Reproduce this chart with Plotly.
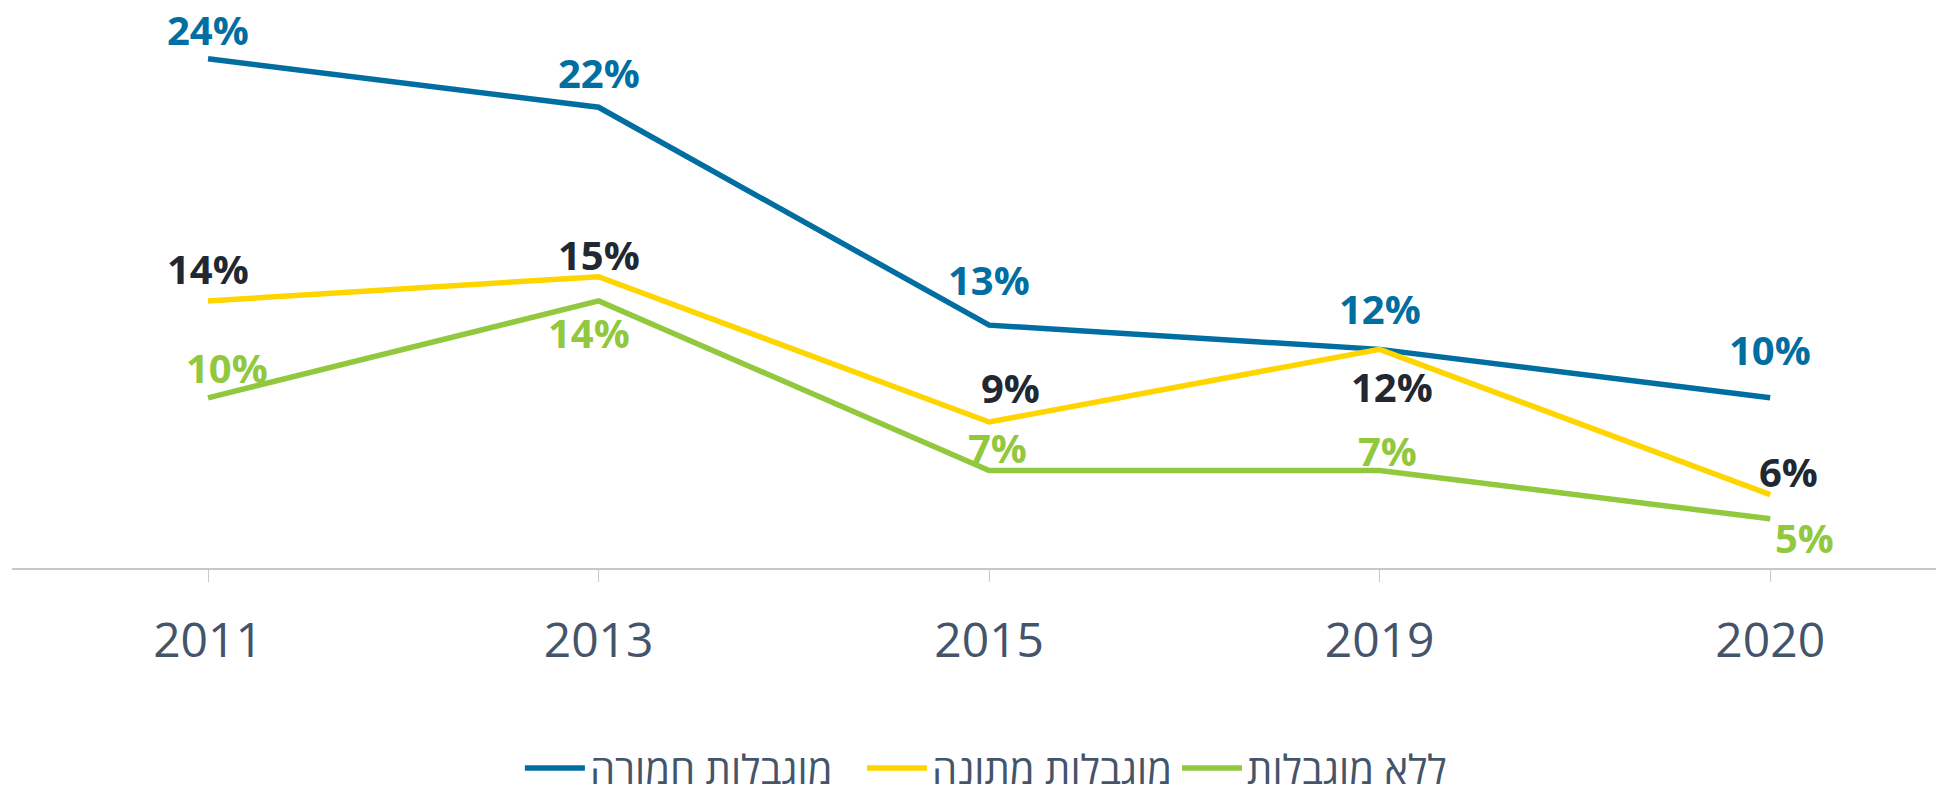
import plotly.graph_objects as go

years = ["2011", "2013", "2015", "2019", "2020"]
series_names = ["מוגבלות חמורה", "מוגבלות מתונה", "ללא מוגבלות"]
severe = [24, 22, 13, 12, 10]
moderate = [14, 15, 9, 12, 6]
none_ = [10, 14, 7, 7, 5]

values = [severe, moderate, none_]
line_colors = ["#006EA0", "#FFD500", "#92C83E"]
label_colors = ["#006EA0", "#222831", "#92C83E"]
legend_widths = [267, None, None]

# label offsets (pixels) per series/point
label_dx = [
    [0, 0, 0, 0, 0],
    [0, 0, 21, 12, 18],
    [19, -10, 8, 8, 34],
]
label_dy = [
    [29, 35, 46, 41, 48],
    [32, 22, 35, -37, 23],
    [30, -32, 23, 20, -19],
]

fig = go.Figure()
for i, name in enumerate(series_names):
    fig.add_trace(go.Scatter(
        x=years, y=values[i], name=name, mode="lines",
        line=dict(color=line_colors[i], width=5.5),
        hoverinfo="skip", cliponaxis=False,
        legendwidth=legend_widths[i],
    ))

annotations = []
for i in range(3):
    for j, yr in enumerate(years):
        annotations.append(dict(
            x=j, y=values[i][j], xref="x", yref="y",
            text=f"<b>{values[i][j]}%</b>", showarrow=False,
            xshift=label_dx[i][j], yshift=label_dy[i][j],
            font=dict(family="Open Sans", size=40, color=label_colors[i]),
            xanchor="center", yanchor="middle",
        ))

fig.update_layout(
    width=1936, height=778,
    margin=dict(l=4, r=0, t=0, b=218, autoexpand=False),
    paper_bgcolor="white", plot_bgcolor="white",
    annotations=annotations,
    showlegend=True,
    legend=dict(
        orientation="h", x=0.2629, xanchor="left", y=-0.357, yanchor="middle",
        font=dict(family="Open Sans", size=40, color="#44546A"),
        itemwidth=60, traceorder="normal",
    ),
    xaxis=dict(
        type="category", range=[-0.502, 4.445], automargin=False,
        showline=True, linecolor="#C8C8C8", linewidth=2,
        ticks="outside", ticklen=12, tickcolor="#C8C8C8", tickwidth=1,
        tickfont=dict(family="Open Sans", size=48, color="#44546A"),
        showgrid=False, zeroline=False, ticklabelstandoff=17,
    ),
    yaxis=dict(
        range=[2.97, 26.10], visible=False, showgrid=False, zeroline=False,
        automargin=False,
    ),
)

fig.write_html("out.html")
